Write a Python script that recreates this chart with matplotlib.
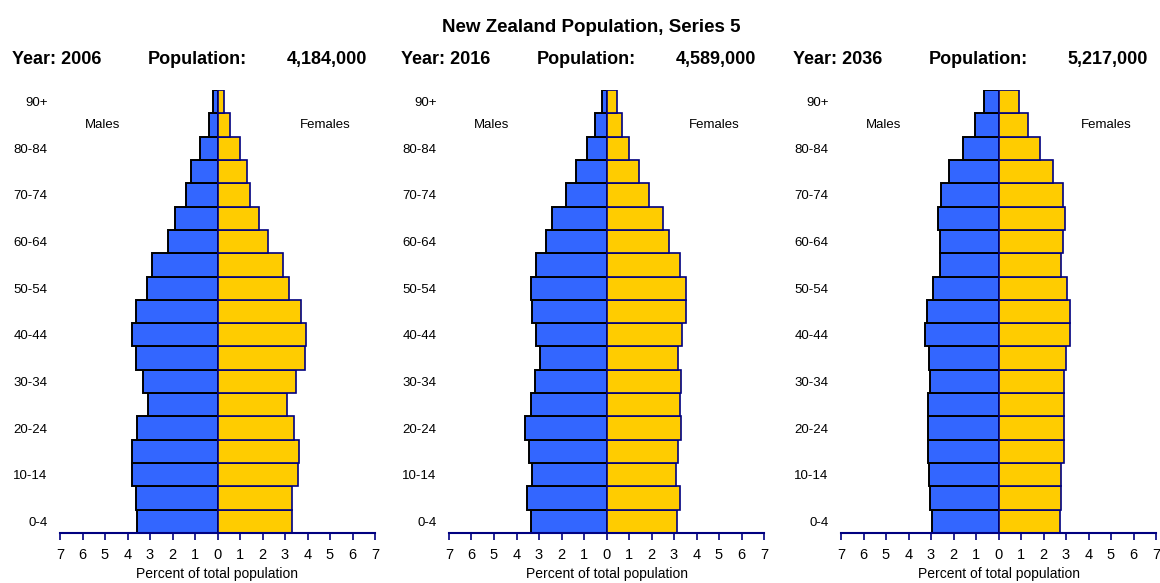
import numpy as np
import matplotlib
matplotlib.use("Agg")
import matplotlib.pyplot as plt

plt.rcParams['font.family'] = ['Liberation Sans', 'DejaVu Sans']

# age groups, bottom to top
ages = ['0-4', '5-9', '10-14', '15-19', '20-24', '25-29', '30-34', '35-39',
        '40-44', '45-49', '50-54', '55-59', '60-64', '65-69', '70-74',
        '75-79', '80-84', '85-89', '90+']

years = ['2006', '2016', '2036']
populations = ['4,184,000', '4,589,000', '5,217,000']

# percent of total population (bottom to top)
males_2006 = [3.56, 3.61, 3.82, 3.82, 3.56, 3.08, 3.32, 3.61, 3.78, 3.61,
              3.14, 2.90, 2.21, 1.87, 1.39, 1.16, 0.77, 0.36, 0.19]
females_2006 = [3.29, 3.33, 3.57, 3.63, 3.41, 3.11, 3.51, 3.87, 3.93, 3.70,
                3.17, 2.89, 2.25, 1.85, 1.44, 1.32, 1.02, 0.56, 0.27]

males_2016 = [3.37, 3.55, 3.31, 3.43, 3.61, 3.37, 3.20, 2.97, 3.15, 3.31,
              3.37, 3.15, 2.67, 2.43, 1.80, 1.34, 0.86, 0.52, 0.22]
females_2016 = [3.13, 3.25, 3.07, 3.19, 3.31, 3.25, 3.31, 3.19, 3.37, 3.53,
                3.55, 3.25, 2.79, 2.51, 1.87, 1.45, 0.98, 0.70, 0.46]

males_2036 = [2.97, 3.03, 3.09, 3.15, 3.15, 3.15, 3.03, 3.09, 3.26, 3.19,
              2.91, 2.61, 2.61, 2.67, 2.57, 2.21, 1.57, 1.04, 0.65]
females_2036 = [2.73, 2.79, 2.79, 2.89, 2.89, 2.89, 2.89, 3.01, 3.19, 3.19,
                3.03, 2.77, 2.85, 2.95, 2.85, 2.43, 1.85, 1.32, 0.92]

males = [males_2006, males_2016, males_2036]
females = [females_2006, females_2016, females_2036]

W, H = 1160, 583
fig = plt.figure(figsize=(W / 100, H / 100), dpi=100)
fig.patch.set_facecolor('white')

blue = '#3366FF'
yellow = '#FFCC00'
navy = '#000080'

panel_left = [60, 449, 841]
panel_width = 315
ax_bottom = 533
ax_top = 90

fig.text(591 / W, 1 - 32 / H, 'New Zealand Population, Series 5',
         ha='center', va='baseline', fontsize=13.5, fontweight='bold')

y = np.arange(len(ages))
for k in range(3):
    left = panel_left[k]
    ax = fig.add_axes([left / W, (H - ax_bottom) / H,
                       panel_width / W, (ax_bottom - ax_top) / H])
    ax.barh(y, [-v for v in males[k]], height=1.0, color=blue,
            edgecolor='black', linewidth=1.4)
    ax.barh(y, females[k], height=1.0, color=yellow,
            edgecolor=navy, linewidth=1.2)
    ax.set_xlim(-7, 7)
    ax.set_ylim(-0.5, len(ages) - 0.5)

    for s in ['top', 'right', 'left']:
        ax.spines[s].set_visible(False)
    ax.spines['bottom'].set_color(navy)
    ax.spines['bottom'].set_linewidth(1.5)

    xt = np.arange(-7, 8)
    ax.set_xticks(xt)
    ax.set_xticklabels([str(abs(v)) for v in xt])
    ax.tick_params(axis='x', colors=navy, length=5, width=1.2, pad=6,
                   labelsize=10.5, labelcolor='black')

    ax.set_yticks(y[::2])
    ax.set_yticklabels(ages[::2])
    ax.tick_params(axis='y', length=0, pad=9, labelsize=9.5)

    ax.text(-5.1, 17, 'Males', ha='center', va='center', fontsize=9.5)
    ax.text(4.8, 17, 'Females', ha='center', va='center', fontsize=9.5)

    # header line above each pyramid
    x0 = left - 48
    hy = 1 - 64 / H
    fig.text(x0 / W, hy, 'Year: ' + years[k], ha='left', va='baseline',
             fontsize=13, fontweight='bold')
    fig.text((x0 + 136) / W, hy, 'Population:', ha='left',
             va='baseline', fontsize=13, fontweight='bold')
    fig.text((x0 + 355) / W, hy, populations[k], ha='right',
             va='baseline', fontsize=13, fontweight='bold')

    fig.text((left + panel_width / 2) / W, 1 - 567 / H,
             'Percent of total population', ha='center', va='top',
             fontsize=10)

fig.savefig('out.png', dpi=100, facecolor='white')
